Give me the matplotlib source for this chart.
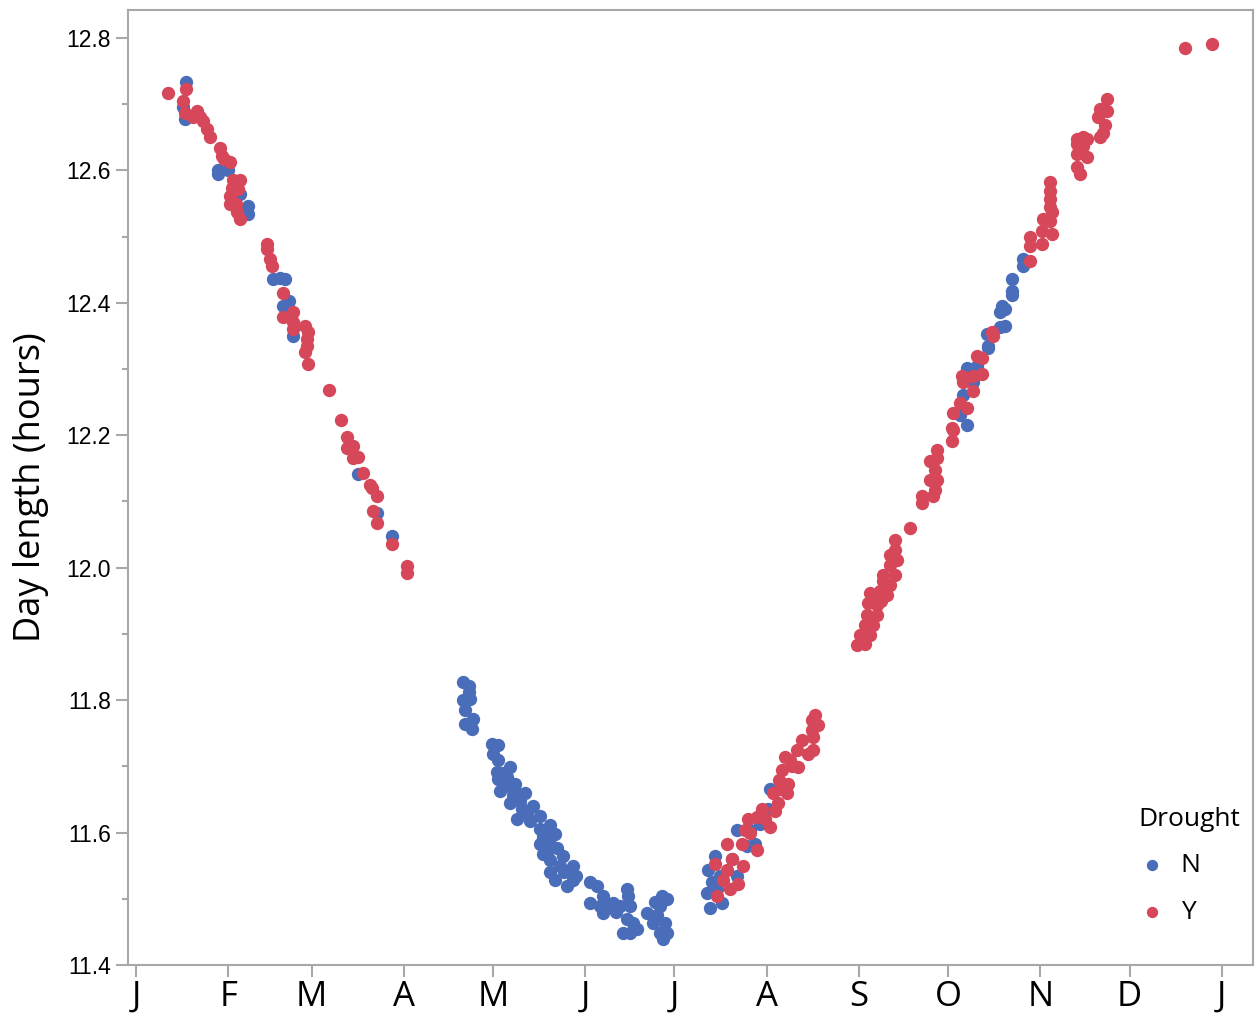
import numpy as np
import matplotlib.pyplot as plt

# day of year (0 = Jan 1) and day length in hours
# Drought = N
n_day = [16.8, 15.8, 16.5, 27.6, 27.6, 30.9, 35.0, 37.6, 37.6,
         46.1, 48.4, 50.1, 51.4, 49.4, 52.8, 74.6, 81.0, 86.1,
         109.9, 111.9, 111.9, 109.9, 112.3, 110.6, 113.3, 110.6, 112.9,
         119.7, 121.7, 120.0, 121.7, 125.7, 121.3, 121.7, 124.7, 127.4,
         122.4, 126.7, 130.8, 125.7, 129.1, 129.7, 131.4, 128.1, 132.4,
         135.8, 139.2, 135.8, 136.8, 140.8, 135.8, 139.2, 141.5, 136.8,
         143.5, 139.2, 142.5, 146.9, 139.2, 140.8, 146.9, 144.9,
         152.6, 155.0, 157.0, 152.6, 156.0, 160.3, 157.0, 165.0, 165.4,
         162.7, 166.1, 165.0, 167.1, 163.7, 166.1,
         176.8, 178.5, 171.8, 176.1, 173.8, 177.8, 176.1, 178.5, 177.1,
         123.0, 124.0, 127.0, 133.5, 137.5, 138.0, 144.0, 148.0, 158.5, 161.5,
         168.5, 174.5, 175.0,
         192.9, 191.9, 192.3, 194.6, 196.3, 197.0, 202.0, 202.0, 205.4,
         206.4, 208.1, 209.7, 212.4, 213.1, 195.3, 193.5, 200.5,
         277.0, 279.3, 278.0, 281.3, 279.3, 282.7, 286.4, 286.4, 286.1,
         290.4, 292.1, 290.4, 292.1, 291.1, 294.5, 294.5, 294.5, 298.2, 298.2]
n_hours = [12.734, 12.695, 12.677, 12.601, 12.594, 12.601, 12.564, 12.546, 12.534,
           12.436, 12.438, 12.436, 12.402, 12.395, 12.350, 12.141, 12.083, 12.048,
           11.827, 11.822, 11.812, 11.800, 11.801, 11.785, 11.771, 11.764, 11.756,
           11.734, 11.732, 11.719, 11.710, 11.699, 11.692, 11.681, 11.684, 11.674,
           11.662, 11.657, 11.659, 11.644, 11.647, 11.635, 11.629, 11.620, 11.617,
           11.625, 11.612, 11.605, 11.594, 11.598, 11.583, 11.583, 11.576, 11.568,
           11.564, 11.559, 11.549, 11.549, 11.541, 11.529, 11.529, 11.519,
           11.526, 11.519, 11.504, 11.493, 11.489, 11.493, 11.478, 11.514, 11.504,
           11.489, 11.489, 11.469, 11.463, 11.448, 11.448,
           11.504, 11.499, 11.478, 11.489, 11.463, 11.463, 11.448, 11.448, 11.439,
           11.690, 11.670, 11.665, 11.640, 11.600, 11.570, 11.540, 11.535, 11.490, 11.480,
           11.455, 11.495, 11.475,
           11.486, 11.508, 11.544, 11.564, 11.534, 11.493, 11.534, 11.604, 11.579,
           11.604, 11.583, 11.613, 11.635, 11.665, 11.514, 11.525, 11.560,
           12.230, 12.215, 12.260, 12.281, 12.301, 12.305, 12.331, 12.335, 12.353,
           12.364, 12.365, 12.386, 12.391, 12.395, 12.411, 12.418, 12.436, 12.456, 12.466]

# Drought = Y
y_day = [10.8, 16.8, 15.8, 16.5, 20.5, 22.5, 23.9, 24.9, 19.2, 21.5,
         28.2, 28.9, 31.6, 32.6, 35.0, 32.3, 34.3, 31.6, 31.6, 34.0, 35.0,
         29.6, 33.6,
         44.0, 44.0, 45.0, 45.7, 49.4, 52.8, 49.4, 52.8, 52.8, 56.8, 57.8,
         57.5, 57.5, 56.8, 57.8, 64.9, 68.9, 70.9, 70.9, 72.9, 72.9, 74.6,
         76.3, 78.7, 79.3, 81.0, 79.7, 81.0, 86.1, 91.1, 91.1,
         194.6, 197.3, 195.3, 198.7, 198.7, 199.7, 202.4, 204.0, 203.7, 204.7,
         205.7, 208.7, 208.7, 210.4, 213.1, 214.8, 214.1, 216.5, 218.8, 219.2,
         215.8, 217.1, 218.2, 219.8, 222.2, 222.5, 223.9, 225.9, 227.6, 227.2,
         229.2, 228.2, 227.6, 227.2, 200.5, 206.5, 211.5, 216.0, 220.5,
         242.4, 245.0, 243.4, 246.7, 245.0, 247.7, 245.7, 249.1, 246.1, 249.1,
         246.7, 250.1, 252.4, 251.1, 253.4, 251.1, 255.1, 253.4, 255.8, 253.4,
         255.1, 255.1, 260.2, 264.2, 264.2, 267.9, 268.6, 266.9, 269.2, 268.6,
         266.9, 269.2, 269.2, 274.3, 274.6, 248.0, 250.5, 252.0,
         274.3, 274.6, 279.3, 277.0, 281.3, 278.0, 277.6, 281.3, 284.4, 282.7,
         284.4, 288.1, 287.7, 300.5, 300.5, 304.5, 300.5, 304.5, 307.9, 304.9,
         307.2, 307.9, 307.2, 307.2, 307.2, 307.2,
         316.3, 317.3, 316.3, 319.7, 316.3, 318.3, 318.3, 316.3, 324.0, 325.0,
         325.7, 323.4, 326.4, 326.4, 324.0, 319.7, 352.6, 361.7]
y_hours = [12.717, 12.722, 12.704, 12.687, 12.689, 12.674, 12.662, 12.650, 12.681, 12.680,
           12.633, 12.621, 12.612, 12.586, 12.586, 12.574, 12.571, 12.561, 12.549, 12.537, 12.526,
           12.617, 12.549,
           12.489, 12.481, 12.466, 12.456, 12.414, 12.386, 12.379, 12.371, 12.361, 12.365, 12.356,
           12.346, 12.334, 12.326, 12.307, 12.268, 12.223, 12.198, 12.180, 12.183, 12.165, 12.167,
           12.143, 12.125, 12.120, 12.108, 12.086, 12.068, 12.035, 12.003, 11.992,
           11.553, 11.529, 11.504, 11.544, 11.583, 11.514, 11.523, 11.549, 11.583, 11.604,
           11.620, 11.574, 11.624, 11.635, 11.609, 11.632, 11.659, 11.665, 11.659, 11.674,
           11.644, 11.695, 11.714, 11.710, 11.725, 11.699, 11.740, 11.719, 11.725, 11.770,
           11.762, 11.777, 11.744, 11.755, 11.560, 11.600, 11.620, 11.680, 11.700,
           11.883, 11.884, 11.899, 11.899, 11.914, 11.914, 11.929, 11.928, 11.947, 11.944,
           11.962, 11.965, 11.959, 11.980, 11.974, 11.989, 11.989, 12.004, 12.012, 12.019,
           12.026, 12.042, 12.060, 12.098, 12.108, 12.108, 12.117, 12.132, 12.132, 12.147,
           12.161, 12.165, 12.177, 12.191, 12.208, 11.955, 11.950, 11.970,
           12.211, 12.233, 12.241, 12.248, 12.266, 12.281, 12.290, 12.290, 12.293, 12.320,
           12.316, 12.350, 12.356, 12.463, 12.499, 12.489, 12.486, 12.508, 12.504, 12.526,
           12.523, 12.537, 12.544, 12.556, 12.568, 12.582,
           12.605, 12.594, 12.624, 12.620, 12.639, 12.636, 12.651, 12.647, 12.650, 12.657,
           12.669, 12.681, 12.689, 12.707, 12.692, 12.647, 12.785, 12.791]

month_starts = [0, 31, 59, 90, 120, 151, 181, 212, 243, 273, 304, 334, 365]
month_labels = ['J', 'F', 'M', 'A', 'M', 'J', 'J', 'A', 'S', 'O', 'N', 'D', 'J']

blue = '#4a6dba'
red = '#d6475a'
grey = '#a8a8a8'

fig = plt.figure(figsize=(12.56, 10.13), dpi=100)
ax = fig.add_axes([0.1019, 0.0474, 0.8957, 0.9427])

ax.scatter(n_day, n_hours, s=92, color=blue, label='N', linewidths=0, zorder=3)
ax.scatter(y_day, y_hours, s=92, color=red, label='Y', linewidths=0, zorder=3)

ax.set_xlim(-2.7, 375.5)
ax.set_ylim(11.4, 12.842)

ax.set_xticks(month_starts)
ax.set_xticklabels(month_labels, fontsize=25, family='Open Sans')
yt = np.arange(11.4, 12.81, 0.2)
ax.set_yticks(yt)
ax.set_yticklabels(['%.1f' % v for v in yt], fontsize=16.5, family='Liberation Sans')
ax.set_yticks(np.arange(11.5, 12.8, 0.2), minor=True)

ax.tick_params(axis='both', which='major', color=grey, width=1.5, length=8.5)
ax.tick_params(axis='y', which='minor', color=grey, width=1.5, length=4)
ax.tick_params(axis='y', which='major', pad=4)
ax.tick_params(axis='x', pad=2)
for sp in ax.spines.values():
    sp.set_color(grey)
    sp.set_linewidth(1.5)

ax.set_ylabel('Day length (hours)', fontsize=26, family='Open Sans', labelpad=12)

leg = ax.legend(title='Drought', loc='upper right', bbox_to_anchor=(1.010, 0.19),
                frameon=False, fontsize=19, title_fontsize=19, handlelength=1.0,
                handletextpad=0.6, labelspacing=0.8, markerscale=0.85,
                alignment='left')
leg.get_title().set_family('Open Sans')
for t in leg.get_texts():
    t.set_family('Open Sans')

fig.savefig('out.png', dpi=100)
